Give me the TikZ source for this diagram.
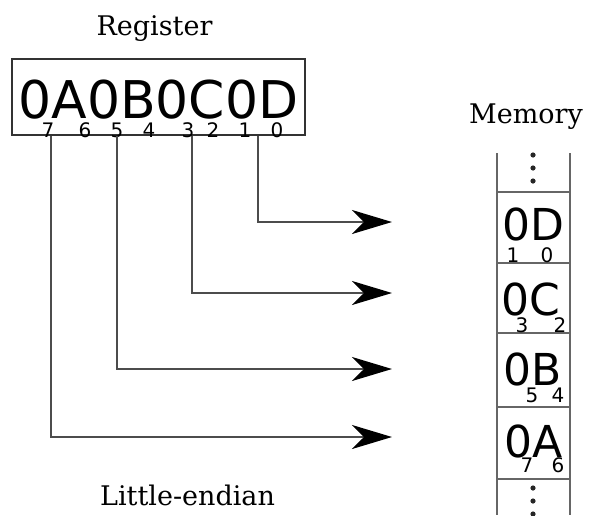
\documentclass[tikz,border=0pt]{standalone}
\usepackage{fontspec}
\setmainfont{DejaVu Serif}
\newfontfamily\hexfont{DejaVu Sans}
\usetikzlibrary{arrows.meta}

\tikzset{
	caption/.style={anchor=base,inner sep=0pt,font=\fontsize{27}{30}\selectfont},
	byte/.style={anchor=base,inner sep=0pt,font=\hexfont\fontsize{44}{48}\selectfont},
	bit/.style={anchor=base,inner sep=0pt,font=\hexfont\fontsize{20}{22}\selectfont},
	wire/.style={line width=2.4pt,draw=black!70,
		-{Stealth[length=40pt,width=24pt,inset=12pt,color=black]}},
	cell/.style={line width=1.8pt,draw=black!60},
}

\begin{document}
\begin{tikzpicture}[x=1pt,y=-1pt]
	\useasboundingbox (0,0) rectangle (589,515);

	% register with its bit numbers
	\node[caption] (regname) at (154.5,35) {Register};
	\node[anchor=base,draw=black!80,line width=2.2pt,inner sep=0pt,
		minimum width=293pt,text height=59pt,text depth=17pt,align=center,
		font=\hexfont\fontsize{52}{56}\selectfont] (reg) at (158.5,118) {0A0B0C0D};
	\foreach \b/\x in {7/48,6/85,5/117,4/149,3/188,2/213,1/245,0/277}
		\node[bit] (b\b) at (\x,137) {\b};

	% memory column
	\node[caption] (memname) at (526,123) {Memory};
	\draw[cell] (497,153) -- (497,515);
	\draw[cell] (570,153) -- (570,515);
	\foreach \y in {192,263,333,407,479}
		\draw[cell] (497,\y) -- (570,\y);
	\foreach \y in {155,168,181,488,501,514}
		\fill[black!85] (533,\y) circle (2.6);

	\node[byte] (m0) at (533,240) {0D};
	\node[byte] (m1) at (531,315) {0C};
	\node[byte] (m2) at (533,385) {0B};
	\node[byte] (m3) at (534,457) {0A};

	\node[bit] (m0l) at (513,262) {1};
	\node[bit] (m0r) at (547,262) {0};
	\node[bit] (m1l) at (522,332) {3};
	\node[bit] (m1r) at (560,332) {2};
	\node[bit] (m2l) at (532,402) {5};
	\node[bit] (m2r) at (558,402) {4};
	\node[bit] (m3l) at (527,472) {7};
	\node[bit] (m3r) at (558,472) {6};

	% taps under the register and arrow ends
	\coordinate (t0) at (258,136);
	\coordinate (t1) at (192,136);
	\coordinate (t2) at (117,136);
	\coordinate (t3) at (51,136);
	\coordinate (e0) at (392,222);
	\coordinate (e1) at (392,293);
	\coordinate (e2) at (392,369);
	\coordinate (e3) at (392,437);

	\draw[wire] (t0) |- (e0);
	\draw[wire] (t1) |- (e1);
	\draw[wire] (t2) |- (e2);
	\draw[wire] (t3) |- (e3);

	\node[caption] (order) at (187.5,505) {Little-endian};
\end{tikzpicture}
\end{document}
